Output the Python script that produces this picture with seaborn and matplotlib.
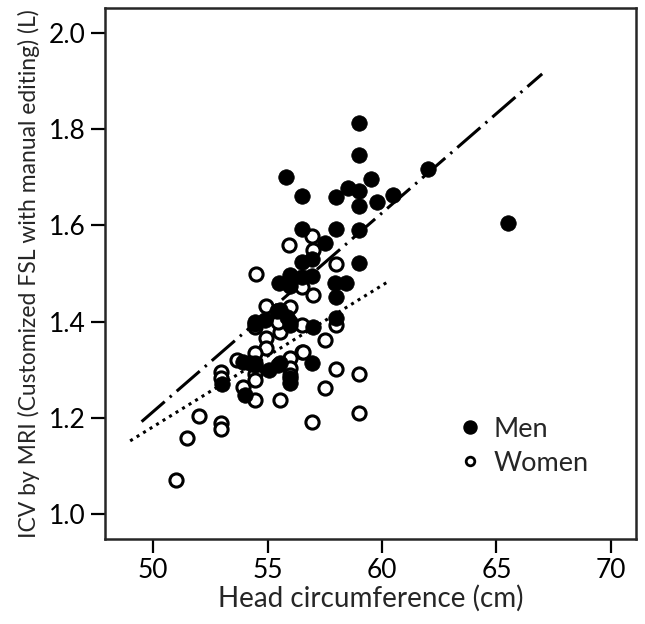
"""
ICV by MRI vs head circumference, men and women
"""
import seaborn as sns
import pandas as pd
import matplotlib.pyplot as plt
from matplotlib.lines import Line2D

# Men (filled circles)
men_hc = [59.0, 59.0, 55.8, 59.5, 56.5, 58.0, 58.5, 59.0, 59.0, 59.8, 60.5, 62.0, 65.5,
          59.0, 56.5, 58.0, 57.5, 59.0, 56.5, 56.95, 56.0, 56.5, 56.95, 55.5, 56.0,
          57.95, 58.45, 58.0, 55.4, 55.55, 54.45, 54.9, 55.85, 56.0, 56.0, 57.0, 58.0,
          54.45, 53.95, 54.25, 55.05, 55.55, 55.45, 56.95, 54.0, 53.0, 56.0, 56.0, 54.45]
men_icv = [1.812, 1.746, 1.700, 1.696, 1.661, 1.660, 1.677, 1.672, 1.640, 1.649, 1.663, 1.717, 1.605,
           1.590, 1.592, 1.592, 1.564, 1.521, 1.523, 1.530, 1.497, 1.493, 1.495, 1.481, 1.473,
           1.480, 1.480, 1.452, 1.421, 1.424, 1.400, 1.403, 1.410, 1.393, 1.400, 1.389, 1.408,
           1.396, 1.317, 1.313, 1.300, 1.313, 1.310, 1.313, 1.248, 1.270, 1.272, 1.283, 1.310]

# Women (open circles)
women_hc = [55.95, 56.95, 57.0, 58.0, 54.5, 56.5, 57.0, 54.95, 56.0, 55.55, 55.55, 56.5,
            58.0, 54.45, 54.95, 54.95, 57.5, 56.5, 56.0, 54.45, 58.0, 53.65, 54.45, 54.45,
            52.95, 52.95, 53.95, 54.45, 54.45, 55.55, 56.95, 52.95, 52.95, 52.0, 51.5, 51.0,
            57.5, 59.0, 59.0, 56.0, 56.0, 56.55, 55.45]
women_icv = [1.559, 1.577, 1.548, 1.519, 1.499, 1.471, 1.455, 1.433, 1.430, 1.400, 1.379, 1.393,
             1.393, 1.389, 1.366, 1.345, 1.362, 1.337, 1.324, 1.334, 1.302, 1.320, 1.313, 1.292,
             1.296, 1.282, 1.263, 1.279, 1.238, 1.237, 1.192, 1.189, 1.176, 1.203, 1.157, 1.071,
             1.261, 1.291, 1.209, 1.303, 1.289, 1.337, 1.400]

# Regression lines (end points)
men_fit_x = [49.5, 67.0]
men_fit_y = [1.192, 1.915]
women_fit_x = [49.0, 60.3]
women_fit_y = [1.152, 1.484]

x_ticks = [50, 55, 60, 65, 70]
y_ticks = [1.0, 1.2, 1.4, 1.6, 1.8, 2.0]

sns.set_style("ticks")
plt.rcParams['font.family'] = ['Lato', 'DejaVu Sans']

fig = plt.figure(figsize=(6.45, 6.24), dpi=100)
ax = fig.add_axes([105 / 645, 1 - 539 / 624, 531 / 645, 531 / 624])

df_men = pd.DataFrame({"hc": men_hc, "icv": men_icv})
df_women = pd.DataFrame({"hc": women_hc, "icv": women_icv})

ax.plot(men_fit_x, men_fit_y, color="black", lw=2.2,
        linestyle=(0, (10, 2.2, 0.8, 2.2)), zorder=1)
ax.plot(women_fit_x, women_fit_y, color="black", lw=2.2,
        linestyle=(0, (1, 1.5)), zorder=1)

sns.scatterplot(data=df_men, x="hc", y="icv", ax=ax, s=125, color="black",
                edgecolor="black", linewidth=0.5, zorder=3)
sns.scatterplot(data=df_women, x="hc", y="icv", ax=ax, s=90, facecolor="white",
                edgecolor="black", linewidth=2.2, zorder=2)

ax.set_xlim(47.9, 71.1)
ax.set_ylim(0.948, 2.052)
ax.set_xticks(x_ticks)
ax.set_yticks(y_ticks)
ax.set_yticklabels([f"{v:.1f}" for v in y_ticks])
ax.tick_params(direction="out", length=10, width=1.6, labelsize=19, pad=4, colors="black")
for s in ax.spines.values():
    s.set_linewidth(1.8)
    s.set_visible(True)

ax.set_xlabel("Head circumference (cm)", fontsize=20, labelpad=1)
ax.set_ylabel("ICV by MRI (Customized FSL with manual editing) (L)", fontsize=16.5, labelpad=6)

handles = [
    Line2D([], [], marker="o", ls="", markersize=9.4, color="black", label="Men"),
    Line2D([], [], marker="o", ls="", markersize=6.2, markerfacecolor="white",
           markeredgecolor="black", markeredgewidth=2.0, label="Women"),
]
ax.legend(handles=handles, loc="upper left", bbox_to_anchor=(0.642, 0.256), frameon=False,
          fontsize=19.5, handlelength=0.8, handletextpad=0.45, labelspacing=0.33, borderpad=0)

plt.savefig("out.png", dpi=100)
plt.close()
